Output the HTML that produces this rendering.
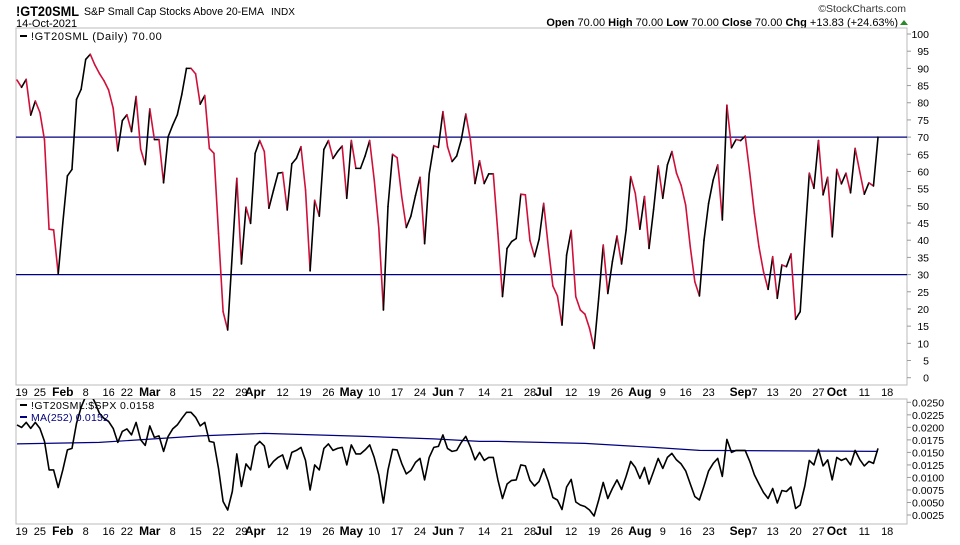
<!DOCTYPE html>
<html><head><meta charset="utf-8">
<style>
html,body{margin:0;padding:0;background:#fff;}
body{width:960px;height:540px;overflow:hidden;font-family:"Liberation Sans",sans-serif;}
svg text{font-family:"Liberation Sans",sans-serif;}
</style></head>
<body>
<svg id="chart" width="960" height="540" xmlns="http://www.w3.org/2000/svg">
  <defs>
    <clipPath id="clipMain"><rect x="16" y="28" width="891" height="357"/></clipPath>
    <clipPath id="clipLow"><rect x="16" y="399" width="891" height="125"/></clipPath>
  </defs>
  <text x="16" y="16" font-size="14" font-weight="bold" fill="#000" textLength="63" lengthAdjust="spacingAndGlyphs">!GT20SML</text>
  <text x="84" y="15" font-size="11" fill="#000" textLength="180" lengthAdjust="spacingAndGlyphs">S&amp;P Small Cap Stocks Above 20-EMA</text>
  <text x="271" y="15" font-size="10" fill="#000">INDX</text>
  <text x="16" y="27" font-size="11" fill="#000">14-Oct-2021</text>
  <text x="906" y="12" font-size="10.5" fill="#333" text-anchor="end">©StockCharts.com</text>
  <text x="898" y="26" font-size="11" fill="#000" text-anchor="end"><tspan font-weight="bold">Open</tspan> 70.00  <tspan font-weight="bold">High</tspan> 70.00  <tspan font-weight="bold">Low</tspan> 70.00  <tspan font-weight="bold">Close</tspan> 70.00  <tspan font-weight="bold">Chg</tspan> +13.83 (+24.63%)</text>
  <polygon points="900,25 908,25 904,20" fill="#2a8a2a"/>

  <rect x="16" y="28" width="891" height="357" fill="#fff" stroke="#bbb" stroke-width="1"/>
  <rect x="16" y="399" width="891" height="125" fill="#fff" stroke="#bbb" stroke-width="1"/>
  <g id="gMain" clip-path="url(#clipMain)"></g>
  <g id="gLow" clip-path="url(#clipLow)"></g>
  <g id="gAxes"></g>

  <line x1="20" y1="36" x2="27" y2="36" stroke="#000" stroke-width="2"/>
  <text x="31" y="40" font-size="11" fill="#000" letter-spacing="0.6">!GT20SML (Daily) 70.00</text>
  <line x1="20" y1="405" x2="27" y2="405" stroke="#000" stroke-width="2"/>
  <text x="31" y="409" font-size="10.5" fill="#000" letter-spacing="0.4">!GT20SML:$SPX 0.0158</text>
  <line x1="20" y1="417" x2="27" y2="417" stroke="#000080" stroke-width="2"/>
  <text x="31" y="421" font-size="10.5" fill="#000080" letter-spacing="0.2">MA(252) 0.0152</text>
</svg>
<script>
const mainValues = [86.6,84.5,86.8,76.4,80.5,77.2,69.2,43.2,43,30.2,45,58.7,60.6,81,83.9,92.6,94.1,91,88.5,86.4,
83.7,78.4,66,74.8,76.5,71.6,81.8,66.5,62,78.2,69.3,69.3,56.7,70.1,73.5,76.5,82.5,90,90,88.4,
79.6,82.1,66.7,65.3,42,19.2,13.9,36,58,33.1,49.6,44.9,65.3,69,65.8,49.3,54.5,59.5,59.7,48.8,
62.2,63.8,67.2,54.6,31.1,51.6,47,66.4,69,63.8,65.8,67.4,52.2,69,60.9,60.9,64.5,69,57.5,43.5,
19.7,49.8,65,64,52.7,43.7,47,53,58.3,39,59.3,67.5,67,77.4,67.2,62.9,64.5,69.2,76.7,69.2,
56.5,63.1,56.5,59.3,59.3,42,23.6,37.6,39.6,40.5,53.4,53.2,39.9,35.2,40.3,50.7,38.1,26.7,23.8,15.3,
35.7,42.8,23.6,19.7,18.5,14.4,8.5,23,38.6,24.5,33.8,41.2,33.1,43,58.5,53.6,43.2,52.7,37.6,49,
61.6,52.2,61.9,65.8,59.5,56,50.2,38.1,27.9,23.8,40,50.7,57.5,61.9,45.9,79.3,66.9,69.3,69,70.3,
59.5,47.8,38.1,30.8,25.7,35.2,23.1,32.8,32.3,36,17,19.2,40,59.5,55.1,69,53.2,58.3,41,60.6,
56.4,59.5,53.8,66.7,60,53.4,56.7,55.8,70];
// ratio values in units of 1e-4
const ratioValues = [205,200,210,198,210,198,172,115,115,80,115,155,158,208,240,262,268,250,228,218,
212,198,170,192,197,185,210,175,164,203,180,183,152,182,197,205,218,230,230,220,
203,210,172,170,118,52,35,72,147,82,127,115,163,172,163,120,132,140,145,117,
150,154,160,134,75,125,115,158,167,154,158,160,125,165,147,147,155,165,140,105,
49,115,156,155,128,107,114,130,138,95,140,160,162,185,158,152,154,170,182,161,
135,150,134,140,140,95,58,87,94,95,125,123,94,83,92,117,92,60,55,36,
81,96,51,45,42,35,23,55,90,58,78,95,76,102,132,120,98,120,87,112,
138,118,140,148,135,127,113,87,62,55,83,113,128,138,102,176,150,154,154,154,
132,105,87,70,58,78,49,74,72,81,38,45,83,134,125,156,123,135,95,140,
134,138,125,154,136,123,132,128,158];
const maDays = [0,18,40,54,65,76,91,101,105,124,139,149,188];
const maValues = [167,170,183,188,185,182,177,172,172,168,160,154,152];
const mainTicks = [100,95,90,85,80,75,70,65,60,55,50,45,40,35,30,25,20,15,10,5,0];
const lowTicks = [250,225,200,175,150,125,100,75,50,25];
const refLevels = [70,30];
const dateLabels = ["19","25","Feb","8","16","22","Mar","8","15","22","29","Apr","12","19","26","May","10","17","24","Jun","7","14","21","28","Jul","12","19","26","Aug","9","16","23","Sep","7","13","20","27","Oct","11","18"];
const dateDays = [1,5,10,15,20,24,29,34,39,44,49,52,58,63,68,73,78,83,88,93,97,102,107,112,115,121,126,131,136,141,146,151,158,161,165,170,175,179,185,190];
const boldLabels = ["Feb","Mar","Apr","May","Jun","Jul","Aug","Sep","Oct"];

const NS = "http://www.w3.org/2000/svg";
const xScale = d => 17 + d * 4.58;
const yMain = v => 377.7 - v * 3.437;
const yLow = v => 515 - (v - 25) / 25 * 12.52;
function mk(tag, attrs, parent) {
  const el = document.createElementNS(NS, tag);
  for (const k in attrs) el.setAttribute(k, attrs[k]);
  parent.appendChild(el);
  return el;
}
const gMain = document.getElementById('gMain');
const gLow = document.getElementById('gLow');
const gAxes = document.getElementById('gAxes');

refLevels.forEach(v => {
  const l = mk('line', {x1: 16, x2: 907, y1: yMain(v), y2: yMain(v), stroke: '#000080', 'stroke-width': 1.3}, gMain);
  
  
});

for (let i = 1; i < mainValues.length; i++) {
  const up = mainValues[i] >= mainValues[i - 1];
  const s = mk('line', {x1: xScale(i - 1), y1: yMain(mainValues[i - 1]), x2: xScale(i), y2: yMain(mainValues[i]), stroke: up ? '#000' : '#d0103a', 'stroke-width': 1.6, 'stroke-linecap': 'round'}, gMain);
  
  
}

const maPts = maDays.map((d, k) => xScale(d).toFixed(1) + ',' + yLow(maValues[k]).toFixed(1)).join(' ');
const ma = mk('polyline', {points: maPts, fill: 'none', stroke: '#000080', 'stroke-width': 1.2}, gLow);



const rPts = ratioValues.map((v, i) => xScale(i).toFixed(1) + ',' + yLow(v).toFixed(1)).join(' ');
const rl = mk('polyline', {points: rPts, fill: 'none', stroke: '#000', 'stroke-width': 1.6, 'stroke-linejoin': 'round'}, gLow);



mainTicks.forEach(v => {
  const y = yMain(v);
  const t = mk('line', {x1: 907, x2: 911, y1: y, y2: y, stroke: '#999'}, gAxes);
  
  
  const tx = mk('text', {x: 929, y: y + 4, 'font-size': 10.5, 'text-anchor': 'end', fill: '#000'}, gAxes);
  tx.textContent = v;
  
  
});
lowTicks.forEach(v => {
  const y = yLow(v);
  const t = mk('line', {x1: 907, x2: 911, y1: y, y2: y, stroke: '#999'}, gAxes);
  
  
  const tx = mk('text', {x: 912, y: y + 4, 'font-size': 10.5, fill: '#000'}, gAxes);
  tx.textContent = (v / 10000).toFixed(4);
  
  
});
[392, 531].forEach(yy => {
  dateLabels.forEach((lab, k) => {
    const bold = boldLabels.indexOf(lab) >= 0;
    const tx = mk('text', {x: xScale(dateDays[k]), y: yy + 4, 'font-size': bold ? 12 : 11, 'font-weight': bold ? 'bold' : 'normal', 'text-anchor': 'middle', fill: '#000'}, gAxes);
    tx.textContent = lab;
    
    
  });
});
</script>
</body></html>
